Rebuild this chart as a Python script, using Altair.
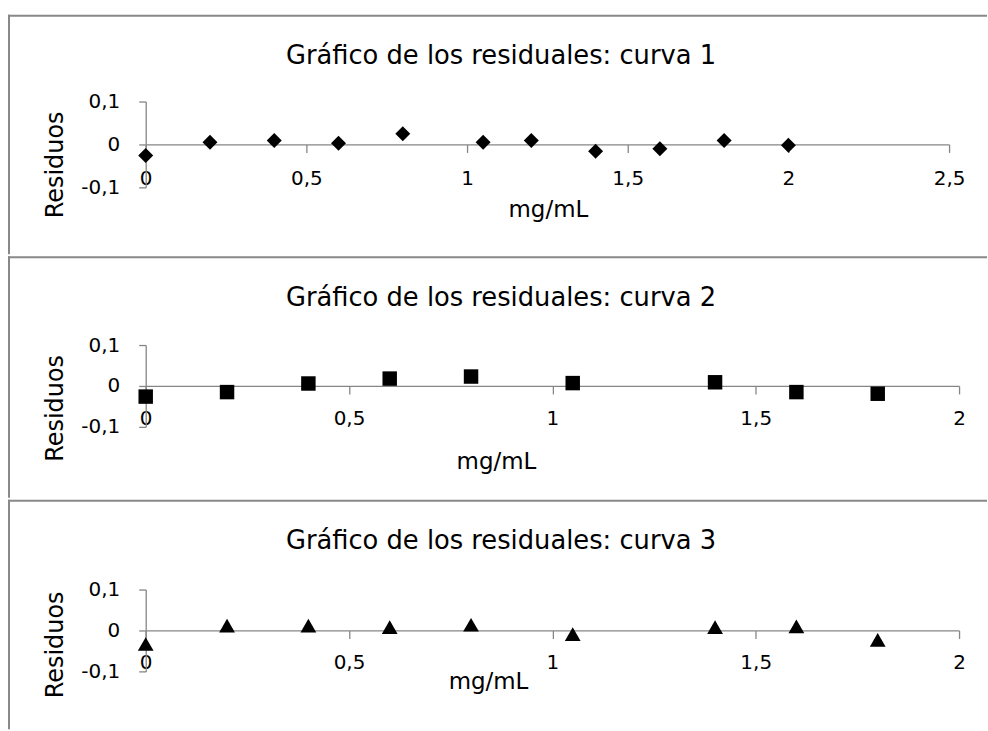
import altair as alt
import pandas as pd

# ---------------- data ----------------
x_c1 = [0, 0.2, 0.4, 0.6, 0.8, 1.05, 1.2, 1.4, 1.6, 1.8, 2.0]
r_c1 = [-0.026, 0.005, 0.009, 0.003, 0.025, 0.005, 0.009, -0.016, -0.010, 0.009, -0.002]

x_c2 = [0, 0.2, 0.4, 0.6, 0.8, 1.05, 1.4, 1.6, 1.8]
r_c2 = [-0.026, -0.015, 0.006, 0.018, 0.023, 0.007, 0.009, -0.015, -0.019]

x_c3 = [0, 0.2, 0.4, 0.6, 0.8, 1.05, 1.4, 1.6, 1.8]
r_c3 = [-0.033, 0.012, 0.012, 0.008, 0.014, -0.009, 0.008, 0.010, -0.023]

panel_titles = [
    "Gráfico de los residuales: curva 1",
    "Gráfico de los residuales: curva 2",
    "Gráfico de los residuales: curva 3",
]
x_axis_title = "mg/mL"
y_axis_title = "Residuos"

x_ticks_c1 = [0, 0.5, 1, 1.5, 2, 2.5]
x_ticks_c23 = [0, 0.5, 1, 1.5, 2]
y_ticks = [-0.1, 0, 0.1]
x_domain_c1 = [0, 2.5]
x_domain_c23 = [0, 2]
y_domain = [-0.1, 0.1]

shapes = ["diamond", "square", "triangle-up"]

# ---------------- styling ----------------
FONT = "DejaVu Sans"
GRAY = "#888888"
AXIS_GRAY = "#868686"
W = 981
LABEL_EXPR = "replace(replace(format(datum.value, '~g'), '.', ','), '\u2212', '-')"


def panel(xs, rs, shape, size, title, H, xdom, xrange, yrange, xticks,
          xtitle_x, xtitle_y, ytitle_x, ytitle_y, xlabpad):
    df = pd.DataFrame({"x": xs, "r": rs})
    zero_y = (yrange[0] + yrange[1]) / 2.0
    pts = alt.Chart(df).mark_point(
        shape=shape, filled=True, color="black", opacity=1, size=size
    ).encode(
        x=alt.X(
            "x:Q",
            scale=alt.Scale(domain=xdom, range=xrange, nice=False, zero=False),
            axis=alt.Axis(
                values=xticks, grid=False, offset=zero_y - H,
                domainColor=AXIS_GRAY, domainWidth=1.3,
                tickColor=AXIS_GRAY, tickWidth=1.3, tickSize=8,
                labelFont=FONT, labelFontSize=20, labelColor="black",
                labelPadding=xlabpad, labelBaseline="alphabetic",
                labelFlush=False, labelOverlap=False, labelExpr=LABEL_EXPR,
                title=x_axis_title, titleFont=FONT, titleFontSize=23,
                titleFontWeight="normal", titleColor="black",
                titleX=xtitle_x, titleY=xtitle_y, titleAlign="center",
                titleBaseline="alphabetic",
            ),
        ),
        y=alt.Y(
            "r:Q",
            scale=alt.Scale(domain=y_domain, range=yrange, nice=False, zero=False),
            axis=alt.Axis(
                values=y_ticks, grid=False, offset=-xrange[0],
                domainColor=AXIS_GRAY, domainWidth=1.3,
                tickColor=AXIS_GRAY, tickWidth=1.3, tickSize=7,
                labelFont=FONT, labelFontSize=20, labelColor="black",
                labelPadding=19, labelAlign="right", labelBaseline="middle",
                labelFlush=False, labelOverlap=False, labelExpr=LABEL_EXPR,
                title=y_axis_title, titleFont=FONT, titleFontSize=24,
                titleFontWeight="normal", titleColor="black", titleAngle=270,
                titleX=ytitle_x, titleY=ytitle_y, titleAlign="center",
                titleBaseline="alphabetic",
            ),
        ),
    )
    tdf = pd.DataFrame({"t": [title]})
    ttl = alt.Chart(tdf).mark_text(
        font=FONT, fontSize=25.8, align="center", baseline="alphabetic", color="black"
    ).encode(text="t:N", x=alt.value(494), y=alt.value(49.4))
    bdf = pd.DataFrame({"k": [0]})
    top = alt.Chart(bdf).mark_rule(color=GRAY, strokeWidth=2).encode(
        x=alt.value(0), x2=alt.value(W), y=alt.value(1)
    )
    left = alt.Chart(bdf).mark_rule(color=GRAY, strokeWidth=2).encode(
        x=alt.value(1), y=alt.value(0), y2=alt.value(H)
    )
    return alt.layer(top, left, ttl, pts).properties(width=W, height=H)


p1 = panel(x_c1, r_c1, shapes[0], 225, panel_titles[0], 240, x_domain_c1,
           [138, 943], [173, 87], x_ticks_c1, 541, 72.4, -83, 150, 32.3)
p2 = panel(x_c2, r_c2, shapes[1], 210, panel_titles[1], 242, x_domain_c23,
           [138, 953], [171, 89], x_ticks_c23, 489, 82.4, -83, 152, 31.0)
p3 = panel(x_c3, r_c3, shapes[2], 250, panel_titles[2], 230, x_domain_c23,
           [138, 953], [172, 90], x_ticks_c23, 481, 58.4, -83, 145, 30.5)

chart = alt.vconcat(p1, p2, p3, spacing=0).properties(
    padding={"left": 7, "top": 13, "right": 0, "bottom": 0},
    background="white",
).configure_view(stroke=None)

chart.save("out.html", embed_options={"renderer": "svg", "actions": False})
